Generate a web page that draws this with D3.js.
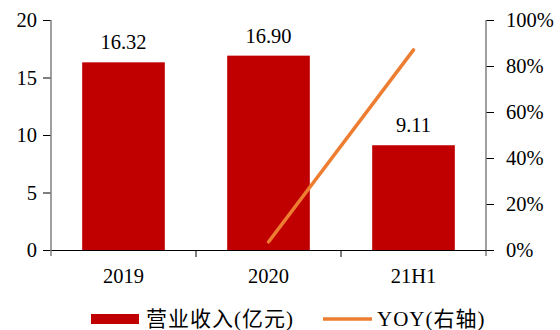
<!DOCTYPE html>
<html>
<head>
<meta charset="utf-8">
<script src="https://cdn.jsdelivr.net/npm/d3@7"></script>
<style>
  body { margin: 0; background: #fff; }
  text { font-family: "Liberation Serif", "Times New Roman", "Noto Sans CJK SC", serif; }
</style>
</head>
<body>
<div id="chart"></div>
<script>
var categories = ["2019", "2020", "21H1"];
var revenue = [16.32, 16.90, 9.11];
var yoy = [null, 0.035, 0.87];
var leftTicks = [0, 5, 10, 15, 20];
var rightTicks = [0, 0.2, 0.4, 0.6, 0.8, 1.0];

var svgWidth = 560;
var svgHeight = 330;
var margin = { top: 20, right: 74, bottom: 80, left: 51 };
var width = svgWidth - margin.left - margin.right;
var height = svgHeight - margin.top - margin.bottom;
var fontSize = "20.5px";

var svg = d3.select("#chart")
  .append("svg")
  .attr("width", svgWidth)
  .attr("height", svgHeight);

var chartGroup = svg.append("g")
  .attr("transform", `translate(${margin.left}, ${margin.top})`);

var xScale = d3.scaleBand()
  .domain(categories)
  .range([0, width])
  .paddingInner(0.43)
  .paddingOuter(0.215);

var xBand = d3.scaleBand().domain(categories).range([0, width]);

var yLeft = d3.scaleLinear().domain([0, 20]).range([height, 0]);
var yRight = d3.scaleLinear().domain([0, 1]).range([height, 0]);

// bars
chartGroup.selectAll(".bar")
  .data(revenue)
  .enter()
  .append("rect")
  .attr("x", (d, i) => xScale(categories[i]))
  .attr("y", d => yLeft(d))
  .attr("width", xScale.bandwidth())
  .attr("height", d => height - yLeft(d))
  .attr("fill", "#C00000");

// bar labels
chartGroup.selectAll(".barLabel")
  .data(revenue)
  .enter()
  .append("text")
  .attr("x", (d, i) => xScale(categories[i]) + xScale.bandwidth() / 2)
  .attr("y", d => yLeft(d) - 13)
  .attr("text-anchor", "middle")
  .attr("font-size", fontSize)
  .attr("fill", "#000")
  .text(d => d.toFixed(2));

// left axis
var leftAxis = d3.axisLeft(yLeft).tickValues(leftTicks).tickSize(8).tickPadding(6);
var gLeft = chartGroup.append("g").call(leftAxis);
gLeft.select(".domain").remove();
gLeft.selectAll(".tick line").attr("stroke", "#000");
gLeft.selectAll(".tick text").attr("font-size", fontSize).attr("fill", "#000")
  .style("font-family", "'Liberation Serif', serif");

// right axis
var rightAxis = d3.axisRight(yRight).tickValues(rightTicks).tickSize(8).tickPadding(12)
  .tickFormat(d3.format(".0%"));
var gRight = chartGroup.append("g")
  .attr("transform", `translate(${width}, 0)`)
  .call(rightAxis);
gRight.select(".domain").remove();
gRight.selectAll(".tick line").attr("stroke", "#000");
gRight.selectAll(".tick text").attr("font-size", fontSize).attr("fill", "#000")
  .style("font-family", "'Liberation Serif', serif");

// vertical axis lines, running a little below the baseline
chartGroup.selectAll(".vaxis")
  .data([0, width])
  .enter()
  .append("line")
  .attr("x1", d => d)
  .attr("x2", d => d)
  .attr("y1", 0)
  .attr("y2", height + 6)
  .attr("stroke", "#7f7f7f")
  .attr("stroke-width", 1.5);

// bottom axis
var bottomAxis = d3.axisBottom(xBand).tickSize(0);
var gBottom = chartGroup.append("g")
  .attr("transform", `translate(0, ${height})`)
  .call(bottomAxis);
gBottom.select(".domain").attr("stroke", "#000").attr("stroke-width", 1.2);
gBottom.selectAll(".tick text")
  .attr("y", 33)
  .attr("dy", 0)
  .attr("font-size", fontSize)
  .attr("fill", "#000")
  .style("font-family", "'Liberation Serif', serif");
// divider ticks between categories
gBottom.selectAll(".divider")
  .data(categories.slice(1))
  .enter()
  .append("line")
  .attr("x1", d => xBand(d))
  .attr("x2", d => xBand(d))
  .attr("y1", 0)
  .attr("y2", 7)
  .attr("stroke", "#000");

// yoy line
var line = d3.line()
  .defined(d => d.v !== null)
  .x(d => xBand(d.c) + xBand.bandwidth() / 2)
  .y(d => yRight(d.v));

chartGroup.append("path")
  .datum(categories.map((c, i) => ({ c: c, v: yoy[i] })))
  .attr("d", line)
  .attr("fill", "none")
  .attr("stroke", "#ED7D31")
  .attr("stroke-width", 3.5)
  .attr("stroke-linecap", "round");

// legend
var legend = svg.append("g").attr("transform", "translate(0, 319)");
legend.append("rect")
  .attr("x", 91).attr("y", -5)
  .attr("width", 48).attr("height", 10)
  .attr("fill", "#C00000");
legend.append("text")
  .attr("x", 146).attr("y", 7)
  .attr("font-size", "21px")
  .attr("letter-spacing", "1px")
  .text("营业收入(亿元)");
legend.append("line")
  .attr("x1", 323).attr("x2", 372)
  .attr("y1", 0).attr("y2", 0)
  .attr("stroke", "#ED7D31")
  .attr("stroke-width", 3.5);
legend.append("text")
  .attr("x", 377).attr("y", 7)
  .attr("font-size", "21px")
  .attr("letter-spacing", "1px")
  .text("YOY(右轴)");
</script>
</body>
</html>
